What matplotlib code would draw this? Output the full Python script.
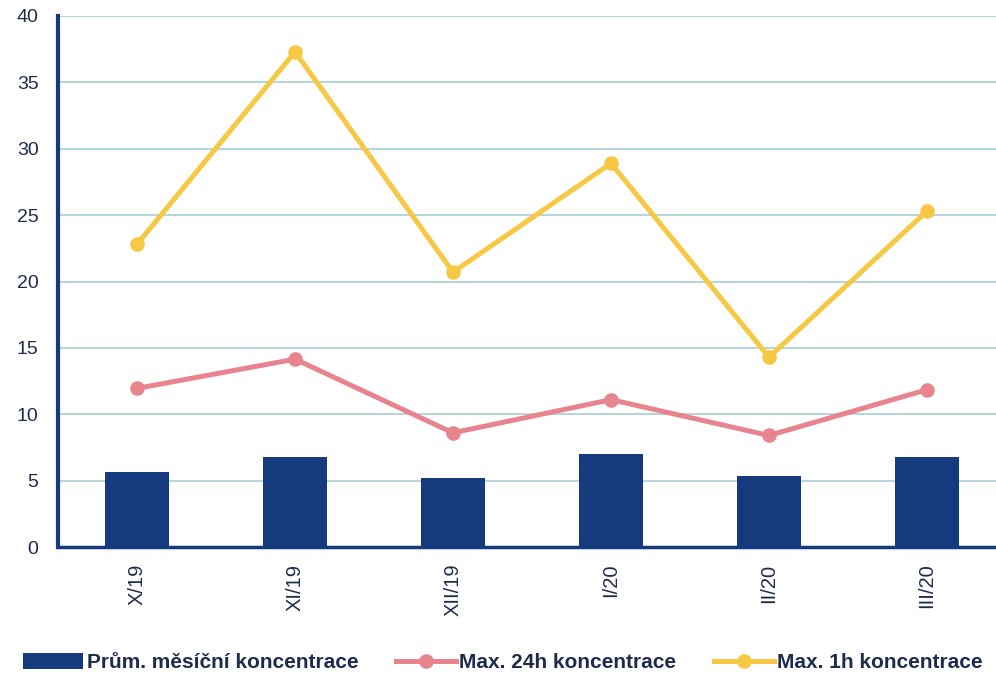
import matplotlib.pyplot as plt
from matplotlib.patches import Patch
from matplotlib.lines import Line2D
import numpy as np

# data
months = ["X/19", "XI/19", "XII/19", "I/20", "II/20", "III/20"]
prum_mesicni = [5.65, 6.8, 5.2, 7.0, 5.35, 6.8]
max_24h = [11.95, 14.15, 8.6, 11.1, 8.4, 11.85]
max_1h = [22.8, 37.3, 20.7, 28.9, 14.3, 25.3]

navy = "#153A7E"
pink = "#E8848E"
yellow = "#F6C844"
grid_col = "#A9CED6"
text_col = "#1E2B4F"

plt.rcParams['font.family'] = ['Liberation Sans', 'DejaVu Sans']

fig = plt.figure(figsize=(9.96, 6.77), dpi=100)
ax = fig.add_axes([58 / 996, 130 / 677, 938 / 996, 531 / 677])

x = np.arange(len(months))
ax.bar(x, prum_mesicni, width=0.4, color=navy, zorder=3)
ax.plot(x, max_24h, color=pink, lw=3.6, marker="o", ms=9.5, zorder=4)
ax.plot(x, max_1h, color=yellow, lw=3.6, marker="o", ms=9.5, zorder=4)

ax.set_ylim(0, 40)
ax.set_xlim(-0.5, -0.5 + 938 / 158)
ax.set_yticks(range(0, 41, 5))
ax.set_xticks(x)
ax.set_xticklabels(months, rotation=90)
ax.yaxis.grid(True, color=grid_col, lw=1.2, zorder=0)
ax.set_axisbelow(True)

for s in ["top", "right"]:
    ax.spines[s].set_visible(False)
ax.spines["left"].set_color(navy)
ax.spines["left"].set_linewidth(3)
ax.spines["bottom"].set_color(navy)
ax.spines["bottom"].set_linewidth(2.5)

ax.tick_params(axis="both", length=0, colors=text_col)
ax.tick_params(axis="y", labelsize=14, pad=14)
ax.tick_params(axis="x", labelsize=14.5, pad=12)

handles = [
    Patch(facecolor=navy, edgecolor="none"),
    Line2D([], [], color=pink, lw=3.6, marker="o", ms=9.5),
    Line2D([], [], color=yellow, lw=3.6, marker="o", ms=9.5),
]
labels = ["Prům. měsíční koncentrace", "Max. 24h koncentrace", "Max. 1h koncentrace"]
leg = fig.legend(handles, labels, loc="lower center", bbox_to_anchor=(0.505, -0.021), ncol=3,
                 frameon=False, handlelength=2.9, handleheight=0.8, handletextpad=0.15,
                 columnspacing=1.8, prop={"weight": "bold", "size": 15})
for t in leg.get_texts():
    t.set_color(text_col)

fig.savefig("out.png", dpi=100)
